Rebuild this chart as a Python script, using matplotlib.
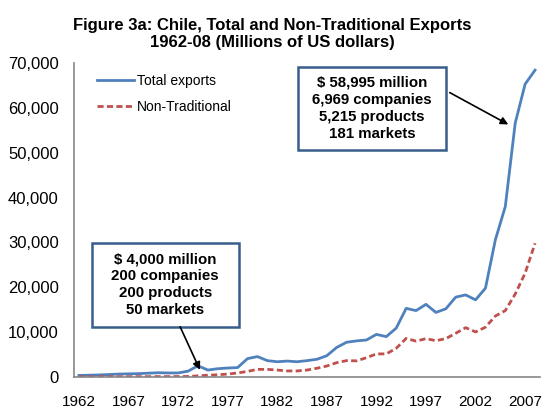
import matplotlib.pyplot as plt
import matplotlib.ticker as mticker
from matplotlib.patches import Rectangle

plt.rcParams["font.family"] = ["Liberation Sans", "DejaVu Sans"]

years = list(range(1962, 2009))
total_exports = [
    350, 400, 460, 550, 650, 700, 750, 850, 950, 900, 900, 1300,
    2500, 1550, 1850, 2000, 2100, 4100, 4550, 3650, 3400, 3550,
    3400, 3650, 3950, 4750, 6600, 7750, 8050, 8250, 9500, 9000,
    10900, 15300, 14800, 16200, 14400, 15200, 17800, 18300, 17200,
    19800, 30600, 38000, 56600, 65300, 68400,
]
non_traditional = [
    50, 50, 60, 60, 70, 70, 80, 80, 90, 90, 100, 120,
    250, 400, 500, 650, 900, 1250, 1700, 1700, 1550, 1350,
    1350, 1550, 1950, 2450, 3200, 3650, 3600, 4300, 5150, 5150,
    6400, 8600, 8000, 8550, 8100, 8550, 9750, 11000, 10050,
    11100, 13600, 14800, 18500, 23150, 29800,
]
tick_years = list(range(1962, 2008, 5))
title = "Figure 3a: Chile, Total and Non-Traditional Exports\n1962-08 (Millions of US dollars)"
box_1962 = "$ 4,000 million\n200 companies\n200 products\n50 markets"
box_2008 = "$ 58,995 million\n6,969 companies\n5,215 products\n181 markets"

fig = plt.figure(figsize=(5.45, 4.08), dpi=100)
ax = fig.add_axes([74 / 545, 31 / 408, 466 / 545, 314 / 408])

ax.plot(years, total_exports, color="#4F81BD", lw=2.0, label="Total exports")
ax.plot(years, non_traditional, color="#C0504D", lw=2.0, ls=(0, (2.2, 1.2)),
        label="Non-Traditional")

ax.set_xlim(1961.5, 2008.5)
ax.set_ylim(0, 70000)
ax.set_xticks(tick_years)
ax.set_yticks(range(0, 70001, 10000))
ax.yaxis.set_major_formatter(mticker.FuncFormatter(lambda v, p: f"{int(v):,}"))
ax.tick_params(axis="both", length=0, labelsize=11, colors="black")
ax.tick_params(axis="y", pad=11, labelsize=12)
ax.tick_params(axis="x", pad=13)

for side in ("top", "right"):
    ax.spines[side].set_visible(False)
for side in ("left", "bottom"):
    ax.spines[side].set_color("#868686")
    ax.spines[side].set_linewidth(1.2)

ax.legend(loc="upper left", bbox_to_anchor=(0.049, 0.965), frameon=False,
          fontsize=10, handlelength=2.7, handletextpad=0.2,
          labelspacing=0.85, borderaxespad=0, borderpad=0)

fig.text(0.5, 1 - 34 / 408, title, ha="center", va="center", fontsize=12,
         fontweight="bold", linespacing=1.2)

# annotation boxes
for (x0, x1, y0, y1), txt in [((1963.3, 1978.1, 11200, 29900), box_1962),
                              ((1984.1, 1999.0, 50700, 69000), box_2008)]:
    ax.add_patch(Rectangle((x0, y0), x1 - x0, y1 - y0, facecolor="white",
                           edgecolor="#385D8A", lw=1.8, zorder=4))
    ax.text((x0 + x1) / 2, (y0 + y1) / 2, txt, ha="center", va="center",
            fontsize=10.8, fontweight="bold", linespacing=1.28, zorder=5)

arrow = dict(arrowstyle="-|>", color="black", lw=1.2, mutation_scale=11,
             shrinkA=0, shrinkB=0)
ax.annotate("", xy=(1974.2, 1600), xytext=(1972.2, 11200), arrowprops=arrow,
            zorder=6)
ax.annotate("", xy=(2005.3, 56300), xytext=(1999.4, 63400), arrowprops=arrow,
            zorder=6)

fig.savefig("out.png", dpi=100)
